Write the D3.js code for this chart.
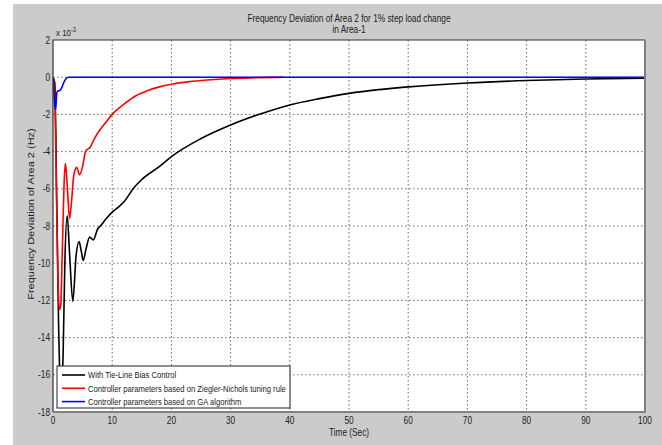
<!DOCTYPE html>
<html>
<head>
<meta charset="utf-8">
<script src="https://cdn.jsdelivr.net/npm/d3@7"></script>
<style>
  body { margin: 0; background: #fff; }
  text { font-family: "Liberation Sans", Arial, sans-serif; fill: #222; }
</style>
</head>
<body>
<div id="chart"></div>
<script>
// data, values in units of 1e-3 Hz
var xTicks = [0, 10, 20, 30, 40, 50, 60, 70, 80, 90, 100];
var yTicks = [2, 0, -2, -4, -6, -8, -10, -12, -14, -16, -18];

var tieLineT = [0, 0.3, 0.6, 0.9, 1.2, 1.4, 1.7, 2.0, 2.4, 2.8, 3.35, 3.9, 4.4, 4.8, 5.1, 5.6, 6.2, 6.8, 7.6, 8, 9, 10, 11, 12, 13.6, 15, 18, 20, 25, 30, 35, 40, 45, 50, 55, 60, 70, 80, 90, 100];
var tieLineV = [0, -0.3, -6, -12.5, -16.5, -17.3, -15, -10, -7.45, -9.5, -12.05, -9.6, -8.84, -9.4, -9.85, -9.2, -8.6, -8.75, -8.12, -8.0, -7.6, -7.25, -7.0, -6.7, -5.97, -5.5, -4.8, -4.27, -3.3, -2.57, -1.98, -1.49, -1.15, -0.87, -0.67, -0.52, -0.31, -0.18, -0.1, -0.05];

var zieglerT = [0, 0.2, 0.35, 0.6, 0.85, 1.1, 1.3, 1.6, 1.9, 2.1, 2.4, 2.8, 3.1, 3.5, 4.0, 4.5, 5.0, 5.5, 6.3, 7, 8, 9, 10, 12, 14, 16, 18, 20, 23, 26, 30, 34, 39];
var zieglerV = [0, -0.5, -1.5, -6.5, -11, -12.5, -12.3, -9, -5.5, -4.63, -5.8, -7.6, -6.8, -5.3, -4.85, -5.25, -4.8, -4.0, -3.75, -3.3, -2.8, -2.4, -2.0, -1.45, -1.0, -0.72, -0.52, -0.38, -0.24, -0.15, -0.07, -0.03, 0];

var gaT = [0, 0.15, 0.3, 0.45, 0.6, 0.75, 1.2, 1.5, 1.8, 2.2, 2.6, 100];
var gaV = [0, -0.8, -1.5, -1.7, -1.0, -0.75, -0.7, -0.55, -0.3, -0.08, 0, 0];

var seriesNames = [
  'With Tie-Line Bias Control',
  'Controller parameters based on Ziegler-Nichols tuning rule',
  'Controller parameters based on GA algorithm'
];
var seriesColors = ['#000000', '#ff0000', '#0000ff'];

var W = 662, H = 445;
var plot = {left: 53, right: 645, top: 40, bottom: 412};
var squeeze = 0.83; // picture was squashed horizontally, text looks narrow

var svg = d3.select('#chart').append('svg')
  .attr('width', W)
  .attr('height', H);

// text placed in a group so it can be narrowed around its anchor
function addText(parent, tx, ty, str, size, anchor, rotate) {
  var g = parent.append('g')
    .attr('transform', 'translate(' + tx + ',' + ty + ') scale(' + squeeze + ',1)' + (rotate ? ' rotate(' + rotate + ')' : ''));
  return g.append('text')
    .attr('text-anchor', anchor || 'start')
    .attr('font-size', size)
    .text(str);
}

// figure background (matlab gray)
svg.append('rect')
  .attr('x', 13).attr('y', 4)
  .attr('width', W - 13).attr('height', H - 4)
  .attr('fill', '#cbcbcb');

var x = d3.scaleLinear().domain([0, 100]).range([plot.left, plot.right]);
var y = d3.scaleLinear().domain([-18, 2]).range([plot.bottom, plot.top]);

svg.append('rect')
  .attr('x', plot.left).attr('y', plot.top)
  .attr('width', plot.right - plot.left).attr('height', plot.bottom - plot.top)
  .attr('fill', '#fff');

// grid
var grid = svg.append('g').attr('class', 'grid')
  .attr('stroke', '#444').attr('stroke-width', 0.8).attr('stroke-dasharray', '1.5,2.5');
grid.selectAll('line.v').data(xTicks.slice(1, -1)).enter().append('line')
  .attr('x1', function (d) { return x(d); })
  .attr('x2', function (d) { return x(d); })
  .attr('y1', plot.top).attr('y2', plot.bottom);
grid.selectAll('line.h').data(yTicks.slice(1, -1)).enter().append('line')
  .attr('y1', function (d) { return y(d); })
  .attr('y2', function (d) { return y(d); })
  .attr('x1', plot.left).attr('x2', plot.right);

// curves
var line = d3.line()
  .x(function (d) { return x(d[0]); })
  .y(function (d) { return y(d[1]); })
  .curve(d3.curveMonotoneX);

var series = [
  d3.zip(tieLineT, tieLineV),
  d3.zip(zieglerT, zieglerV),
  d3.zip(gaT, gaV)
];

svg.append('clipPath').attr('id', 'plotclip').append('rect')
  .attr('x', plot.left).attr('y', plot.top)
  .attr('width', plot.right - plot.left).attr('height', plot.bottom - plot.top);

svg.append('g').attr('clip-path', 'url(#plotclip)')
  .selectAll('path').data(series).enter().append('path')
  .attr('d', line)
  .attr('fill', 'none')
  .attr('stroke', function (d, i) { return seriesColors[i]; })
  .attr('stroke-width', 1.6);

// axes box
svg.append('path')
  .attr('d', 'M' + plot.left + ',' + plot.bottom + 'V' + plot.top + 'H' + plot.right)
  .attr('fill', 'none').attr('stroke', '#333').attr('stroke-width', 1.2);
svg.append('path')
  .attr('d', 'M' + plot.left + ',' + plot.bottom + 'H' + plot.right + 'V' + plot.top)
  .attr('fill', 'none').attr('stroke', '#808080').attr('stroke-width', 2);

// tick labels
xTicks.forEach(function (d) {
  addText(svg, x(d), 424, d, 10, 'middle');
});
yTicks.forEach(function (d) {
  addText(svg, plot.left - 3, y(d) + 3.5, d, 10, 'end');
});

// exponent label
var ex = addText(svg, 56, 36, '', 9.5, 'start');
ex.append('tspan').text('x 10');
ex.append('tspan').attr('dy', -4).attr('font-size', 7).text('-3');

// titles
var cx = (plot.left + plot.right) / 2;
addText(svg, cx, 22, 'Frequency Deviation of Area 2 for 1% step load change', 10, 'middle');
addText(svg, cx, 33, 'in Area-1', 10, 'middle');
addText(svg, cx, 436, 'Time (Sec)', 10, 'middle');
addText(svg, 34, 214, 'Frequency Deviation of Area 2 (Hz)', 11, 'middle', -90);

// legend
var lg = svg.append('g').attr('transform', 'translate(57,366)');
lg.append('rect').attr('width', 233).attr('height', 42)
  .attr('fill', '#fff').attr('stroke', '#222').attr('stroke-width', 1);
seriesNames.forEach(function (name, i) {
  var yy = 9 + i * 13.3;
  lg.append('line').attr('x1', 5).attr('x2', 28).attr('y1', yy).attr('y2', yy)
    .attr('stroke', seriesColors[i]).attr('stroke-width', 1.6);
  addText(lg, 31, yy + 3.3, name, 9.2, 'start');
});
</script>
</body>
</html>
